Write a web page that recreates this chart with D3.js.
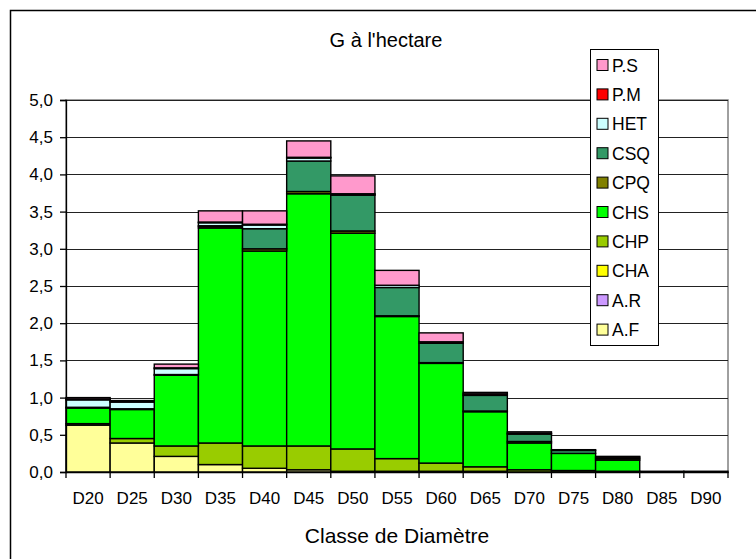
<!DOCTYPE html>
<html>
<head>
<meta charset="utf-8">
<script src="https://cdn.jsdelivr.net/npm/d3@7"></script>
<style>
  body { margin: 0; background: #fff; }
  text { font-family: "Liberation Sans", Arial, sans-serif; fill: #000; }
</style>
</head>
<body>
<script>
// categories (classes de diamètre)
const classes = ["D20", "D25", "D30", "D35", "D40", "D45", "D50", "D55", "D60", "D65", "D70", "D75", "D80", "D85", "D90"];

// series values, bottom to top of each stack
const AF  = [0.63, 0.39, 0.21, 0.10, 0.05, 0.03, 0.01, 0.01, 0.01, 0.01, 0, 0, 0, 0, 0];
const AR  = [0, 0, 0, 0, 0, 0, 0, 0, 0, 0, 0, 0, 0, 0, 0];
const CHA = [0, 0, 0, 0, 0, 0, 0, 0, 0, 0, 0, 0, 0, 0, 0];
const CHP = [0.02, 0.06, 0.14, 0.29, 0.30, 0.32, 0.30, 0.17, 0.11, 0.06, 0.03, 0.02, 0.01, 0, 0];
const CHS = [0.21, 0.39, 0.95, 2.89, 2.62, 3.39, 2.90, 1.91, 1.34, 0.74, 0.36, 0.23, 0.15, 0.01, 0.01];
const CPQ = [0.01, 0.01, 0.01, 0.02, 0.03, 0.03, 0.03, 0.01, 0.01, 0.01, 0.02, 0, 0.02, 0, 0];
const CSQ = [0, 0, 0, 0.01, 0.27, 0.41, 0.48, 0.38, 0.26, 0.21, 0.10, 0.04, 0.02, 0, 0];
const HET = [0.10, 0.09, 0.08, 0.04, 0.05, 0.04, 0.01, 0.03, 0, 0, 0, 0, 0, 0, 0];
const PM  = [0.01, 0.01, 0.01, 0.01, 0.01, 0.01, 0.01, 0, 0.02, 0.02, 0.01, 0, 0.01, 0, 0];
const PS  = [0.02, 0.01, 0.05, 0.15, 0.18, 0.22, 0.24, 0.20, 0.12, 0.02, 0.02, 0.01, 0, 0, 0];

const seriesNames = ["A.F", "A.R", "CHA", "CHP", "CHS", "CPQ", "CSQ", "HET", "P.M", "P.S"];
const seriesValues = [AF, AR, CHA, CHP, CHS, CPQ, CSQ, HET, PM, PS];
const seriesColors = ["#ffff99", "#cc99ff", "#ffff00", "#99cc00", "#00ff00", "#808000", "#339966", "#ccffff", "#ff0000", "#ff99cc"];

const yTicks = [0, 0.5, 1, 1.5, 2, 2.5, 3, 3.5, 4, 4.5, 5];

// table for d3.stack
const rows = classes.map((c, i) => {
  const r = { classe: c };
  seriesNames.forEach((s, j) => { r[s] = seriesValues[j][i]; });
  return r;
});

const W = 756, H = 559;
const plot = { left: 66, right: 728, top: 100, bottom: 472 };

const svg = d3.select("body").append("svg")
  .attr("width", W)
  .attr("height", H);

// chart area border
svg.append("rect")
  .attr("x", 10.5).attr("y", 10.5)
  .attr("width", W + 20).attr("height", H + 20)
  .attr("fill", "#fff")
  .attr("stroke", "#000")
  .attr("stroke-width", 1.5);

const x = d3.scaleBand()
  .domain(classes)
  .range([plot.left, plot.right])
  .padding(0);

const y = d3.scaleLinear()
  .domain([0, 5])
  .range([plot.bottom, plot.top]);

// plot area border (gray)
svg.append("rect")
  .attr("x", plot.left).attr("y", plot.top)
  .attr("width", plot.right - plot.left).attr("height", plot.bottom - plot.top)
  .attr("fill", "#fff")
  .attr("stroke", "#808080")
  .attr("stroke-width", 1.5);

// gridlines
svg.append("g")
  .selectAll("line")
  .data(yTicks.filter(d => d > 0))
  .join("line")
  .attr("x1", plot.left).attr("x2", plot.right)
  .attr("y1", d => Math.round(y(d)) + 0.5)
  .attr("y2", d => Math.round(y(d)) + 0.5)
  .attr("stroke", "#222")
  .attr("stroke-width", 1.2);

// stacked bars
const stack = d3.stack().keys(seriesNames);
const stacked = stack(rows);

svg.append("g")
  .selectAll("g")
  .data(stacked)
  .join("g")
  .attr("fill", (d, i) => seriesColors[i])
  .selectAll("rect")
  .data(d => d.filter(p => p[1] - p[0] > 0))
  .join("rect")
  .attr("x", d => x(d.data.classe))
  .attr("width", x.bandwidth())
  .attr("y", d => y(d[1]))
  .attr("height", d => y(d[0]) - y(d[1]))
  .attr("stroke", "#000")
  .attr("stroke-width", 1.4);

// y axis
const yAxis = svg.append("g")
  .attr("transform", `translate(${plot.left},0)`)
  .call(d3.axisLeft(y)
    .tickValues(yTicks)
    .tickSize(6)
    .tickPadding(7)
    .tickFormat(d => d3.format(".1f")(d).replace(".", ",")));
yAxis.select(".domain").attr("stroke", "#000").attr("stroke-width", 1.3);
yAxis.selectAll(".tick line").attr("stroke", "#000").attr("stroke-width", 1.3);
yAxis.selectAll("text")
  .attr("font-size", "17px")
  .attr("fill", "#000")
  .style("font-family", "Liberation Sans, Arial, sans-serif");

// x axis
const xAxis = svg.append("g")
  .attr("transform", `translate(0,${plot.bottom})`)
  .call(d3.axisBottom(x).tickSize(0).tickPadding(20));
xAxis.select(".domain").attr("stroke", "#000").attr("stroke-width", 1.3);
xAxis.selectAll("text")
  .attr("font-size", "17px")
  .attr("fill", "#000")
  .style("font-family", "Liberation Sans, Arial, sans-serif");

// x tick marks between categories
svg.append("g")
  .selectAll("line")
  .data(classes.concat(["end"]))
  .join("line")
  .attr("x1", (d, i) => plot.left + i * x.step())
  .attr("x2", (d, i) => plot.left + i * x.step())
  .attr("y1", plot.bottom)
  .attr("y2", plot.bottom + 6)
  .attr("stroke", "#000")
  .attr("stroke-width", 1.3);

// title
svg.append("text")
  .attr("x", 386).attr("y", 47)
  .attr("text-anchor", "middle")
  .attr("font-size", "20px")
  .text("G à l'hectare");

// x axis title
svg.append("text")
  .attr("x", 397).attr("y", 543)
  .attr("text-anchor", "middle")
  .attr("font-size", "21px")
  .text("Classe de Diamètre");

// legend (top item = top of stack)
const legend = svg.append("g");
legend.append("rect")
  .attr("x", 590.5).attr("y", 49.5)
  .attr("width", 68).attr("height", 296)
  .attr("fill", "#fff")
  .attr("stroke", "#000")
  .attr("stroke-width", 1);

const legendItems = seriesNames.map((s, i) => ({ name: s, color: seriesColors[i] })).reverse();
const li = legend.selectAll("g.item")
  .data(legendItems)
  .join("g")
  .attr("class", "item")
  .attr("transform", (d, i) => `translate(597,${65 + i * 29.4})`);
li.append("rect")
  .attr("x", 0).attr("y", -5.5)
  .attr("width", 11).attr("height", 11)
  .attr("fill", d => d.color)
  .attr("stroke", "#000")
  .attr("stroke-width", 1);
li.append("text")
  .attr("x", 15).attr("y", 6.5)
  .attr("font-size", "17.5px")
  .text(d => d.name);
</script>
</body>
</html>
